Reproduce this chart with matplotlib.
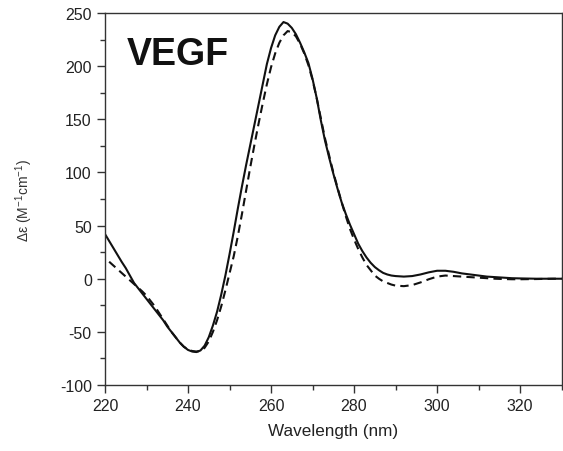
import numpy as np
import matplotlib.pyplot as plt
from matplotlib.ticker import MultipleLocator

plt.rcParams['font.family'] = ['Liberation Sans', 'DejaVu Sans']
plt.rcParams['axes.unicode_minus'] = False

# CD spectra, solid = sample 1, dashed = sample 2
wl_solid = [220, 221, 222, 223, 224, 225, 226, 227, 228, 229,
            230, 231, 232, 233, 234, 235, 236, 237, 238, 239,
            240, 241, 242, 243, 244, 245, 246, 247, 248, 249,
            250, 251, 252, 253, 254, 255, 256, 257, 258, 259,
            260, 261, 262, 263, 264, 265, 266, 267, 268, 269,
            270, 271, 272, 273, 274, 275, 276, 277, 278, 279,
            280, 281, 282, 283, 284, 285, 286, 287, 288, 289,
            290, 292, 294, 296, 298, 300, 302, 304, 306, 308,
            310, 312, 314, 316, 318, 320, 324, 328, 330]
de_solid = [42, 35.5, 29, 22.5, 16, 10, 3, -4, -9, -14,
            -19, -24, -29, -34, -39, -45, -50, -55, -60, -64,
            -67, -68.5, -69, -67.5, -63, -55, -44, -31, -15, 3,
            23, 44, 66, 87, 107, 126, 145, 164, 183, 202,
            217, 229, 237, 241.5, 240, 236, 230, 222, 213, 203,
            188, 170, 149, 130, 114, 99, 85, 72, 61, 51,
            42, 33, 26, 20, 15, 11, 8, 5.5, 4, 3,
            2.5, 2, 2.5, 4, 6, 7.5, 7.5, 6.5, 5, 4,
            3, 2, 1.5, 1, 0.5, 0.3, 0, 0, 0]

wl_dash = [221, 222, 223, 224, 225, 226, 227, 228, 229,
           230, 231, 232, 233, 234, 235, 236, 237, 238, 239,
           240, 241, 242, 243, 244, 245, 246, 247, 248, 249,
           250, 251, 252, 253, 254, 255, 256, 257, 258, 259,
           260, 261, 262, 263, 264, 265, 266, 267, 268, 269,
           270, 271, 272, 273, 274, 275, 276, 277, 278, 279,
           280, 281, 282, 283, 284, 285, 286, 287, 288, 289,
           290, 292, 294, 296, 298, 300, 302, 304, 306, 308,
           310, 312, 314, 316, 318, 320, 324, 328, 330]
de_dash = [16, 12.5, 9, 5.5, 2, -1.5, -5, -8.5, -12,
           -16, -21, -26, -32, -38, -44, -50, -55, -60, -64,
           -66.5, -68, -68.5, -68, -65, -59, -50, -39, -26, -11,
           5, 21, 40, 61, 83, 105, 126, 146, 165, 183,
           199, 212, 222, 229, 233, 232, 228, 221, 212, 201,
           187, 170, 151, 132, 116, 100, 86, 72, 59, 47,
           37, 28, 20, 13, 8, 3, 0, -2.5, -4, -5.5,
           -6.5, -7, -6, -3.5, -0.5, 2, 3, 2.5, 2, 1.5,
           1, 0.5, 0, -0.3, -0.5, -0.5, -0.3, 0, 0]

fig = plt.figure(figsize=(5.63, 4.52), dpi=100)
ax = fig.add_axes([0.1865, 0.146, 0.811, 0.823])

ax.plot(wl_solid, de_solid, color='#111111', lw=1.5, ls='-')
ax.plot(wl_dash, de_dash, color='#111111', lw=1.5, ls=(0, (4, 2.5)))

ax.set_xlim(220, 330)
ax.set_ylim(-100, 250)
ax.xaxis.set_major_locator(MultipleLocator(20))
ax.xaxis.set_minor_locator(MultipleLocator(10))
ax.yaxis.set_major_locator(MultipleLocator(50))
ax.yaxis.set_minor_locator(MultipleLocator(25))
ax.tick_params(which='major', direction='out', length=6, width=1,
               labelsize=11.5, colors='#333333', labelcolor='#222222')
ax.tick_params(which='minor', direction='out', length=3.5, width=1,
               colors='#333333')
ax.tick_params(top=False, right=False)
for s in ax.spines.values():
    s.set_linewidth(1)
    s.set_color('#333333')

ax.set_xlabel('Wavelength (nm)', fontsize=12.3, color='#222222', labelpad=7)
ax.set_ylabel('Δε (M$\\mathregular{^{-1}}$cm$\\mathregular{^{-1}}$)',
              fontsize=10, color='#333333', labelpad=18)

ax.text(0.048, 0.863, 'VEGF', transform=ax.transAxes, fontsize=27,
        fontweight='bold', color='#111111')

fig.savefig('out.png', dpi=100)
